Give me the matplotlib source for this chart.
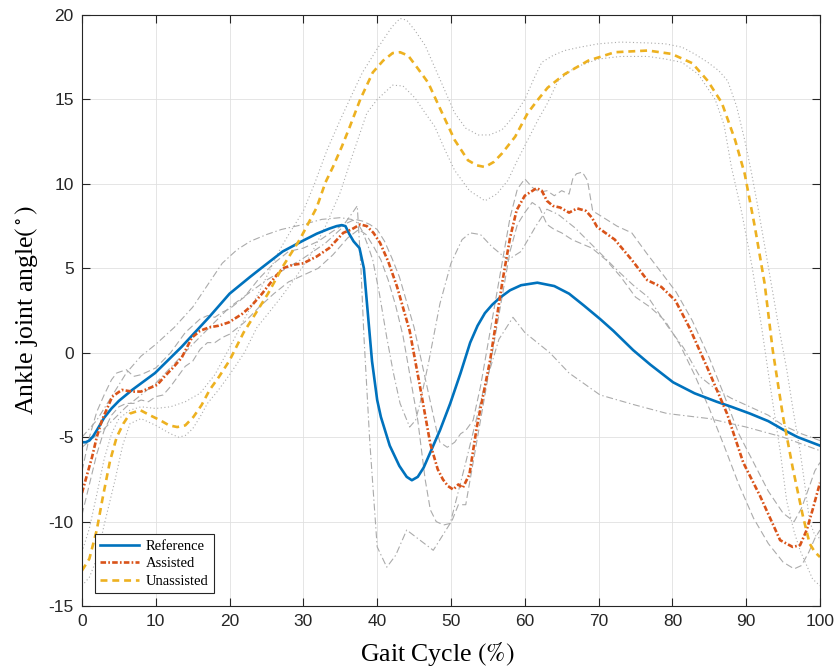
import matplotlib
matplotlib.use('Agg')
import matplotlib.pyplot as plt

# Mittelwerte
ref_x = [0, 0.5, 1, 1.5, 2, 3, 4, 5, 6.8, 9.9, 13.5, 17.2, 20, 22.8, 24.4, 27.2, 30, 31.8, 33.5, 34.5, 35.2, 35.7,
         36.2, 36.8, 37.6, 38.2, 38.7, 39.3, 40, 40.5, 41.7, 43, 44, 44.7, 45.5, 46.3, 47.2, 48.5, 49.9, 51.3, 52.6,
         53.6, 54.6, 55.6, 56.6, 58, 59.5, 61.7, 64, 66, 68, 70.2, 72, 74.7, 77, 80.1, 83, 86, 88, 90.5, 93, 95, 97,
         100]
ref_y = [-5.3, -5.3, -5.2, -4.95, -4.6, -3.85, -3.3, -2.85, -2.2, -1.2, 0.35, 2.1, 3.5, 4.5, 5.05, 6.0, 6.65, 7.05,
         7.35, 7.5, 7.56, 7.5, 7.05, 6.6, 6.2, 5.0, 2.5, -0.5, -2.8, -3.8, -5.5, -6.7, -7.35, -7.55, -7.35, -6.8,
         -5.9, -4.6, -3.0, -1.2, 0.6, 1.6, 2.35, 2.85, 3.25, 3.7, 4.0, 4.15, 3.95, 3.5, 2.8, 2.0, 1.3, 0.15, -0.7,
         -1.75, -2.4, -2.9, -3.2, -3.6, -4.05, -4.55, -5.0, -5.5]

ast_x = [0, 0.7, 1.35, 2, 2.7, 3.5, 4.1, 5.4, 6.8, 8, 9.1, 10.2, 11.2, 12.3, 13.5, 14.9, 16, 17.2, 18.5, 19.9,
         21.7, 23, 24.4, 26, 27.2, 28.5, 30, 31.8, 33.5, 35.4, 36.5, 37.7, 38.6, 39.5, 40.4, 41.5, 42.7, 44.4, 45.8,
         47.2, 48.2, 48.9, 49.6, 50.3, 51, 51.6, 52.5, 53.5, 55.3, 57, 58, 58.9, 60, 61.6, 62.3, 63, 63.8, 64.8, 66,
         67.1, 68.3, 69.1, 69.8, 72.2, 74.5, 76.6, 78.5, 80.4, 82.3, 84.7, 87.4, 89.6, 91.9, 94.6, 96.3, 97.3, 98.2,
         99, 100]
ast_y = [-8.3, -7.2, -6.2, -5.0, -4.0, -3.2, -2.6, -2.2, -2.3, -2.3, -2.1, -1.9, -1.4, -0.9, -0.3, 0.9, 1.3, 1.5,
         1.6, 1.8, 2.3, 2.8, 3.5, 4.4, 5.0, 5.2, 5.3, 5.7, 6.2, 7.1, 7.3, 7.6, 7.5, 7.1, 6.5, 5.4, 3.9, 1.3, -2.0,
         -5.4, -6.9, -7.5, -7.9, -8.1, -7.8, -8.0, -7.2, -4.4, -0.45, 4.3, 6.8, 8.45, 9.3, 9.75, 9.6, 9.0, 8.7, 8.6,
         8.3, 8.55, 8.4, 8.0, 7.45, 6.7, 5.5, 4.3, 3.9, 3.1, 1.5, -0.85, -3.6, -6.5, -8.5, -11.1, -11.5, -11.4,
         -10.5, -9.3, -7.7]

un_x = [0, 1, 2, 2.8, 3.8, 4.7, 5.6, 6.5, 7.9, 9.2, 10.6, 11.8, 12.9, 14, 15.1, 16.2, 17.3, 18.6, 20, 21.9, 23.2,
        25.2, 27.2, 29.5, 31.8, 33, 34, 35.2, 36.3, 37.7, 39.4, 40.8, 42.1, 43.1, 44.2, 45.4, 46.9, 48.8, 50.5, 52.3,
        53.5, 54.6, 55.8, 56.9, 58.7, 60.4, 61.8, 63.1, 65.4, 68.6, 72.2, 76.7, 79.9, 82.7, 84.8, 86.7, 88.5, 89.8,
        91.2, 92.5, 93.6, 95, 96.3, 97.7, 98.6, 99.3, 100]
un_y = [-12.9, -12.2, -10.5, -8.6, -6.4, -5.0, -4.2, -3.6, -3.4, -3.7, -4.0, -4.3, -4.4, -4.3, -3.8, -3.1, -2.2,
        -1.4, -0.45, 1.2, 2.1, 3.5, 5.1, 6.7, 8.6, 10.1, 11.0, 12.2, 13.4, 15.0, 16.6, 17.3, 17.75, 17.8, 17.6, 16.9,
        16.0, 14.2, 12.6, 11.4, 11.1, 11.0, 11.3, 11.8, 12.8, 14.2, 15.0, 15.7, 16.5, 17.3, 17.8, 17.9, 17.7, 17.15,
        16.1, 14.8, 12.6, 10.6, 7.4, 4.1, 0.15, -3.8, -6.8, -9.7, -11.3, -11.8, -12.1]

# Streubaender (grau)
unhi_x = [0, 1, 2, 3, 4, 5, 6.5, 8, 10, 12, 14, 16, 18, 20, 22, 24, 26.8, 28, 30, 31.5, 33.2, 35, 36.7, 38, 40, 42,
          43.1, 44, 45.1, 46.5, 47.8, 49.2, 50.5, 52, 53.7, 55.2, 56.9, 58.5, 60, 61.2, 62.3, 63.8, 65.4, 67.5, 70,
          73, 76.7, 79, 81.3, 83, 84.8, 86.3, 87.5, 88.7, 89.8, 90.7, 91.6, 93, 94.3, 95.5, 96.4, 97.3, 98, 98.6,
          99.3, 100]
unhi_y = [-11.8, -10.4, -8.4, -6.3, -4.8, -3.9, -3.4, -3.2, -3.3, -3.2, -2.9, -2.4, -1.3, 0.3, 2.0, 3.6, 6.1, 7.0,
          8.4, 10.0, 12.0, 13.8, 15.4, 16.6, 18.0, 19.3, 19.8, 19.7, 19.1, 18.2, 16.9, 15.5, 14.2, 13.3, 12.9, 12.9,
          13.2, 14.0, 15.0, 16.2, 17.2, 17.6, 17.9, 18.1, 18.3, 18.4, 18.35, 18.3, 18.1, 17.7, 17.2, 16.7, 16.1,
          14.6, 12.6, 10.7, 8.6, 5.1, 1.8, -1.0, -3.5, -5.8, -8.0, -10.0, -10.8, -11.0]

unlo_x = [0, 1, 2, 3, 4.5, 5.5, 6.5, 8, 10, 12, 13.1, 14, 15, 16, 17, 18.5, 20, 22, 23.7, 25, 27, 29, 31, 33, 35,
          36.5, 38.6, 40, 42.1, 43.5, 45.1, 46.5, 47.8, 49.2, 50.5, 52.5, 54.6, 56.2, 57.7, 59, 60.4, 61.8, 63.1,
          64.5, 66.8, 70, 73, 76.7, 79, 81.3, 83.5, 85.8, 87, 88, 89.4, 90.8, 92.1, 93.2, 94.6, 95.5, 96.5, 97.3,
          98.2, 99, 100]
unlo_y = [-13.8, -13.3, -12.2, -10.2, -7.5, -5.5, -4.2, -3.9, -4.3, -4.8, -5.0, -4.9, -4.5, -3.8, -3.0, -2.2, -1.3,
          0.0, 1.5, 2.2, 3.3, 4.5, 5.8, 7.5, 9.5, 11.5, 14.2, 15.0, 15.85, 15.8, 15.1, 14.2, 13.4, 12.0, 10.8, 9.6,
          9.0, 9.4, 10.2, 11.4, 12.6, 13.8, 14.8, 16.1, 16.9, 17.4, 17.55, 17.55, 17.4, 17.2, 16.5, 15.0, 13.5, 11.0,
          8.3, 5.1, 1.5, -1.8, -5.8, -8.8, -10.6, -11.7, -12.6, -13.4, -13.8]

ashi_x = [0, 1, 2, 3, 4, 4.7, 6, 7, 8, 10, 12, 13, 14, 15, 16, 17, 18, 19, 20, 22, 24, 26, 28, 30, 32, 34, 35.5,
          37, 38, 39, 40, 41, 42, 43, 44, 45, 46, 47, 48, 48.5, 49.5, 50.5, 51.3, 52, 53, 54, 55, 56, 57, 58, 59, 60,
          61, 62, 63, 64, 65, 66, 66.5, 67, 67.8, 68.5, 69.2, 70.5, 72.5, 74.5, 76.5, 78.6, 80.5, 82.7, 85, 87, 89,
          91, 93, 95, 96.5, 97.5, 98.5, 99.3, 100]
ashi_y = [-7.0, -5.0, -3.5, -2.5, -1.6, -1.2, -1.0, -1.4, -1.3, -0.9, 0.0, 0.6, 1.2, 1.6, 2.0, 2.2, 2.1, 2.4, 2.6,
          3.3, 4.4, 5.3, 6.0, 6.2, 6.6, 7.2, 7.6, 7.9, 7.8, 7.6, 7.3, 6.6, 5.6, 4.5, 3.0, 1.5, -0.5, -2.5, -4.5, -5.3,
          -5.6, -5.3, -4.8, -4.6, -4.0, -2.0, 0.5, 3.0, 5.5, 8.0, 9.7, 10.3, 9.8, 9.5, 9.6, 9.3, 9.6, 9.4, 10.3,
          10.6, 10.7, 10.2, 8.4, 8.05, 7.5, 7.1, 5.9, 4.7, 3.6, 1.9, -0.3, -2.5, -4.8, -6.5, -8.2, -9.5, -10.0,
          -9.2, -8.0, -7.0, -6.5]

aslo_x = [0, 1, 2, 3, 4, 5, 6, 7, 8, 9, 10, 11, 12, 13, 14, 15, 16, 17, 18, 19, 20, 22, 24, 26, 28, 30, 32, 34, 36,
          37.5, 38.5, 39.5, 40.5, 41.5, 42.5, 43.5, 44.5, 45.5, 46.5, 47.2, 48, 49, 50, 51, 52, 53, 54, 55, 56, 57,
          58, 59, 60, 61, 62, 63, 64, 65, 66.4, 68, 69.1, 71, 73, 75, 77, 79, 81, 83, 85, 87, 89, 91, 93, 95, 96.5,
          97.5, 98.5, 99.3, 100]
aslo_y = [-9.6, -7.8, -6.0, -4.6, -3.7, -3.2, -3.0, -3.0, -2.8, -2.9, -2.6, -2.5, -2.0, -1.4, -0.8, -0.5, 0.2, 0.6,
          0.6, 0.9, 1.1, 1.8, 2.7, 3.5, 4.2, 4.6, 5.0, 5.8, 6.8, 7.3, 7.0, 6.3, 5.5, 4.3, 2.8, 1.0, -1.5, -4.0, -7.5,
          -9.3, -10.0, -10.2, -10.1, -9.0, -9.0, -6.5, -4.0, -1.5, 1.0, 3.5, 6.0, 7.6, 8.3, 8.9, 8.6, 7.6, 7.3, 7.1,
          6.7, 6.4, 6.2, 5.5, 4.5, 3.3, 2.7, 1.9, 0.5, -1.3, -3.3, -5.5, -7.8, -9.8, -11.3, -12.4, -12.8, -12.6,
          -11.8, -11.0, -10.5]

rfhi_x = [0, 2, 4, 6, 8, 10, 12.5, 15, 17, 19, 21, 22.8, 25, 27, 30, 32.5, 35, 36.5, 37.3, 38, 38.7, 39.4, 40.3,
          41.3, 42.2, 43.1, 44.4, 45.2, 45.8, 47, 48.5, 50, 51.5, 52.6, 54, 55.5, 57.7, 59.5, 61.5, 63, 64.5, 66.8,
          70, 72.5, 74.7, 76.7, 79.3, 81.5, 83.7, 86, 88, 90.5, 93, 95, 97.5, 100]
rfhi_y = [-5.0, -4.0, -2.6, -1.2, -0.2, 0.5, 1.5, 2.7, 4.0, 5.3, 6.1, 6.6, 7.0, 7.3, 7.6, 7.9, 8.0, 7.9, 7.7, 7.2,
          6.4, 5.5, 3.5, 0.9, -1.2, -3.0, -4.4, -4.0, -3.0, -0.5, 2.9, 5.3, 6.7, 7.1, 7.0, 6.3, 5.5, 6.0, 7.5, 8.5,
          8.2, 7.4, 6.0, 4.9, 4.0, 3.3, 1.6, 0.3, -1.4, -2.2, -2.7, -3.2, -3.7, -4.3, -4.8, -5.2]

rflo_x = [0, 3, 6, 10, 15, 20, 25, 30, 33, 35, 36.5, 37.3, 37.8, 38.2, 39, 40, 41.3, 42.5, 44, 45.5, 47.6, 49.9,
          52, 54.3, 56.5, 58.4, 60, 63.4, 66, 70.2, 75, 79.3, 85, 90, 95, 100]
rflo_y = [-5.6, -4.5, -3.2, -1.8, 0.5, 2.7, 4.3, 5.6, 6.5, 7.3, 8.2, 8.7, 5.0, 1.0, -5.3, -11.5, -12.7, -12.0,
          -10.5, -11.0, -11.7, -10.1, -6.5, -2.4, 0.8, 2.1, 1.2, 0.0, -1.2, -2.5, -3.1, -3.6, -3.9, -4.4, -5.0, -5.8]

labels = ['Reference', 'Assisted', 'Unassisted']

plt.rcParams['font.family'] = 'Liberation Sans'
plt.rcParams['mathtext.fontset'] = 'stix'
plt.rcParams['axes.unicode_minus'] = False
plt.rcParams['lines.scale_dashes'] = False

fig = plt.figure(figsize=(8.35, 6.70), dpi=100)
ax = fig.add_axes([0.0982, 0.0955, 0.8838, 0.882])

grau = '#ababab'
ax.plot(unhi_x, unhi_y, color=grau, lw=0.8, dashes=(0.8, 1.8))
ax.plot(unlo_x, unlo_y, color=grau, lw=0.8, dashes=(0.8, 1.8))
ax.plot(ashi_x, ashi_y, color=grau, lw=0.8, dashes=(5, 2.5))
ax.plot(aslo_x, aslo_y, color=grau, lw=0.8, dashes=(5, 2.5))
ax.plot(rfhi_x, rfhi_y, color=grau, lw=0.8, dashes=(5, 2, 1, 2))
ax.plot(rflo_x, rflo_y, color=grau, lw=0.8, dashes=(5, 2, 1, 2))

l1, = ax.plot(ref_x, ref_y, color='#0072BD', lw=1.9, label=labels[0])
l2, = ax.plot(ast_x, ast_y, color='#D95319', lw=1.9, dashes=(4, 1.6, 1.2, 1.6), label=labels[1])
l3, = ax.plot(un_x, un_y, color='#EDB120', lw=1.9, dashes=(5, 3.5), label=labels[2])

ax.set_xlim(0, 100)
ax.set_ylim(-15, 20)
ax.set_xticks(range(0, 101, 10))
ax.set_yticks(range(-15, 21, 5))
ax.grid(True, color='#e0e0e0', lw=0.6)
ax.set_axisbelow(True)
ax.tick_params(direction='in', top=True, right=True, length=5.5, width=0.8,
               color='#262626', labelcolor='#262626', labelsize=12.5, pad=6)
for s in ax.spines.values():
    s.set_color('#262626')
    s.set_linewidth(0.8)

ax.set_xlabel(r'Gait Cycle $(\%)$', family='Liberation Serif', fontsize=18.5)
ax.xaxis.set_label_coords(0.481, -0.058)
ax.set_ylabel(r'Ankle joint angle$(^\circ)$', family='Liberation Serif', fontsize=18.5, labelpad=6)

leg = ax.legend(handles=[l1, l2, l3], loc='lower left', bbox_to_anchor=(0.0176, 0.022), borderaxespad=0,
                prop={'family': 'Liberation Serif', 'size': 10.5}, fancybox=False, framealpha=1,
                edgecolor='#262626', handlelength=2.7, handletextpad=0.45, labelspacing=0.3,
                borderpad=0.35)
leg.get_frame().set_linewidth(0.8)

fig.savefig('out.png', dpi=100)
